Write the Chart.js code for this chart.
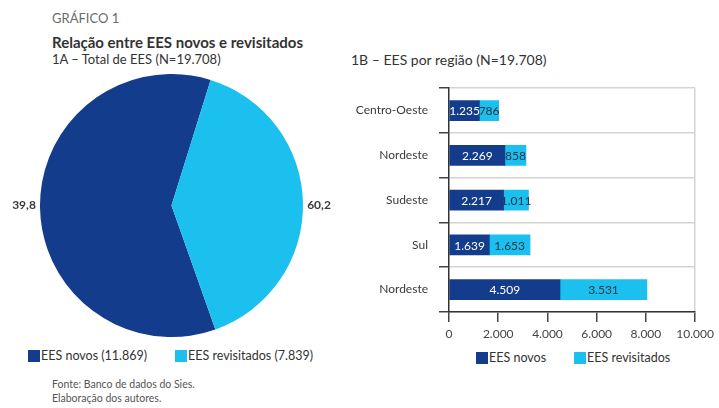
<!DOCTYPE html>
<html>
<head>
<meta charset="utf-8">
<script src="https://cdn.jsdelivr.net/npm/chart.js@4"></script>
<style>
  html, body { margin:0; padding:0; background:#fff; }
  body { width:719px; height:408px; position:relative; overflow:hidden; font-family: Lato, "Open Sans", sans-serif; color:#3a3a3a; }
  .abs { position:absolute; white-space:nowrap; }
  #t0 { left:52px; top:10px; font-size:13px; color:#6b6b6b; }
  #t1 { left:52px; top:33px; font-size:15px; font-weight:bold; color:#333; }
  #t2 { left:52px; top:51px; font-size:13px; color:#333; }
  #t3 { left:351px; top:51px; font-size:14px; color:#333; }
  .leg { font-size:12.5px; color:#333; display:flex; align-items:center; }
  .sw { display:inline-block; width:12px; height:12px; margin-right:1px; }
  #src { left:52px; top:377px; font-size:10.5px; color:#555; line-height:14px; }
  canvas { position:absolute; }
</style>
</head>
<body>
<div class="abs" id="t0">GRÁFICO 1</div>
<div class="abs" id="t1">Relação entre EES novos e revisitados</div>
<div class="abs" id="t2">1A – Total de EES (N=19.708)</div>
<div class="abs" id="t3">1B – EES por região (N=19.708)</div>

<div style="position:absolute;left:0;top:74px;width:343px;height:263px;"><canvas id="pie"></canvas></div>
<div style="position:absolute;left:340px;top:70px;width:379px;height:270px;"><canvas id="bar"></canvas></div>

<div class="abs leg" style="left:28px;top:348px;"><span class="sw" style="background:#143C8C"></span>EES novos (11.869)</div>
<div class="abs leg" style="left:175px;top:348px;"><span class="sw" style="background:#1BC0EE"></span>EES revisitados (7.839)</div>

<div class="abs leg" style="left:476px;top:350px;"><span class="sw" style="background:#143C8C"></span>EES novos</div>
<div class="abs leg" style="left:574px;top:350px;"><span class="sw" style="background:#1BC0EE"></span>EES revisitados</div>

<div class="abs" id="src">Fonte: Banco de dados do Sies.<br>Elaboração dos autores.</div>

<script>
// ---- Data ----
const seriesNames = ["EES novos", "EES revisitados"];
const pieValues = [11869, 7839];
const pieSideLabels = ["39,8", "60,2"]; // left, right (as printed)
const regions = ["Centro-Oeste", "Nordeste", "Sudeste", "Sul", "Nordeste"];
const novos = [1235, 2269, 2217, 1639, 4509];
const revisitados = [786, 858, 1011, 1653, 3531];
const xTicks = [0, 2000, 4000, 6000, 8000, 10000];

const DARK = "#143C8C";
const LIGHT = "#1BC0EE";
const FONT = "Lato, 'Open Sans', sans-serif";

function fmt(n) { return String(n).replace(/\B(?=(\d{3})+(?!\d))/g, "."); }

// ---- Pie ----
const pieLabelPlugin = {
  id: "pieSide",
  afterDraw(chart) {
    const arc = chart.getDatasetMeta(0).data[0];
    if (!arc) return;
    const ctx = chart.ctx;
    ctx.save();
    ctx.font = "bold 12px " + FONT;
    ctx.fillStyle = "#3a3a3a";
    ctx.textBaseline = "middle";
    ctx.textAlign = "center";
    const r = arc.outerRadius;
    ctx.fillText(pieSideLabels[0], arc.x - r - 16, arc.y);
    ctx.fillText(pieSideLabels[1], arc.x + r + 16, arc.y);
    ctx.restore();
  }
};

new Chart(document.getElementById("pie"), {
  type: "pie",
  data: {
    labels: seriesNames,
    datasets: [{ data: pieValues, backgroundColor: [DARK, LIGHT], borderWidth: 0 }]
  },
  options: {
    responsive: true, maintainAspectRatio: false, animation: false,
    rotation: 160.5,
    layout: { padding: 0 },
    plugins: { legend: { display: false }, tooltip: { enabled: false } }
  },
  plugins: [pieLabelPlugin]
});

// ---- Bar ----
const barLabelPlugin = {
  id: "barVals",
  afterDatasetsDraw(chart) {
    const ctx = chart.ctx;
    ctx.save();
    ctx.font = "12px " + FONT;
    ctx.textAlign = "center";
    ctx.textBaseline = "middle";
    chart.data.datasets.forEach((ds, di) => {
      const meta = chart.getDatasetMeta(di);
      meta.data.forEach((el, i) => {
        const p = el.getCenterPoint();
        ctx.fillStyle = di === 0 ? "#ffffff" : "#1f3247";
        ctx.fillText(fmt(ds.data[i]), p.x, p.y + 1);
      });
    });
    ctx.restore();
  }
};

new Chart(document.getElementById("bar"), {
  type: "bar",
  data: {
    labels: regions,
    datasets: [
      { label: seriesNames[0], data: novos, backgroundColor: DARK, barThickness: 20 },
      { label: seriesNames[1], data: revisitados, backgroundColor: LIGHT, barThickness: 20 }
    ]
  },
  options: {
    indexAxis: "y",
    responsive: true, maintainAspectRatio: false, animation: false,
    layout: { padding: { top: 7, right: 19, left: 0, bottom: 0 } },
    plugins: { legend: { display: false }, tooltip: { enabled: false } },
    scales: {
      x: {
        stacked: true, min: 0, max: 10000,
        afterBuildTicks(scale) { scale.ticks = xTicks.map(v => ({ value: v })); },
        afterFit(scale) { scale.height = 28; },
        grid: {
          color: (c) => (c.index === xTicks.length - 1 ? "#d4d4d4" : "rgba(0,0,0,0)"),
          lineWidth: 1.5,
          tickColor: "#444",
          tickLength: 10,
          drawTicks: true
        },
        border: { display: true, color: "#333", width: 1.5 },
        ticks: {
          padding: 5,
          color: "#444",
          font: { family: FONT, size: 12 },
          callback: (v) => fmt(v)
        }
      },
      y: {
        stacked: true,
        afterFit(scale) { scale.width = 109; },
        grid: {
          offset: true,
          color: "#d4d4d4",
          lineWidth: 1.5,
          tickColor: "#444",
          tickLength: 10
        },
        border: { display: true, color: "#333", width: 1.5 },
        ticks: {
          padding: 11,
          color: "#3a3a3a",
          font: { family: FONT, size: 12 }
        }
      }
    }
  },
  plugins: [barLabelPlugin]
});
</script>
</body>
</html>
